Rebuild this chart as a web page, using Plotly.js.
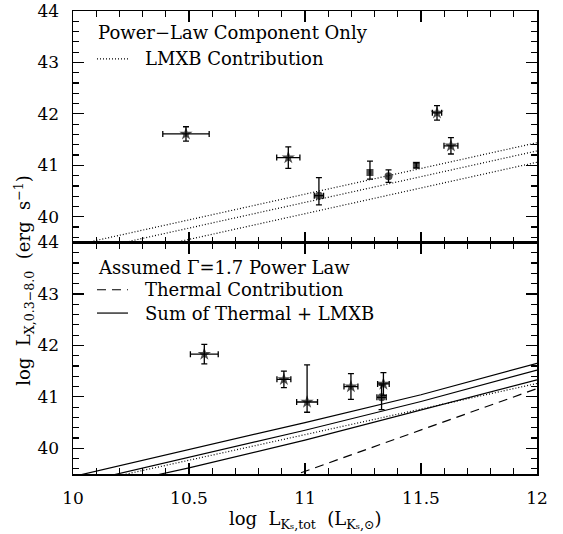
<!DOCTYPE html>
<html>
<head>
<meta charset="utf-8">
<script src="https://cdn.plot.ly/plotly-3.0.1.min.js"></script>
<style>html,body{margin:0;padding:0;background:#fff;}#chart{width:563px;height:534px;}</style>
</head>
<body>
<div id="chart"></div>
<script>
// ---- Top panel: power-law component only ----
const topX = [10.487, 10.928, 11.06, 11.28, 11.36, 11.48, 11.569, 11.629];
const topY = [41.61, 41.15, 40.41, 40.86, 40.79, 41.00, 42.02, 41.38];
const topYErrPlus = [0.14, 0.21, 0.35, 0.22, 0.12, 0.05, 0.14, 0.16];
const topYErrMinus = [0.14, 0.21, 0.18, 0.13, 0.12, 0.05, 0.14, 0.16];
const topXErr = [0.10, 0.05, 0.02, 0, 0, 0, 0.02, 0.03];
const topSymbol = ['star', 'star', 'circle', 'square', 'circle', 'square', 'star', 'star'];

const lmxbX = [10, 12];
const lmxbHiY = [39.44, 41.44];
const lmxbMidY = [39.28, 41.28];
const lmxbLoY = [39.06, 41.06];

// ---- Bottom panel: assumed Gamma=1.7 power law ----
const botX = [10.566, 10.909, 11.009, 11.198, 11.33, 11.338];
const botY = [41.83, 41.34, 40.90, 41.20, 40.99, 41.25];
const botYErrPlus = [0.19, 0.16, 0.72, 0.25, 0.24, 0.22];
const botYErrMinus = [0.19, 0.16, 0.20, 0.25, 0.24, 0.22];
const botXErr = [0.06, 0.03, 0.045, 0.03, 0.02, 0.025];
const botSymbol = ['star', 'star', 'star', 'star', 'circle', 'star'];

const botLmxbX = [10, 12];
const botLmxbY = [39.27, 41.26];
const thermalX = [10.8, 12];
const thermalY = [39.23, 41.16];
const sumX = [10, 10.5, 11, 11.5, 12];
const sumHiY = [39.45, 39.97, 40.50, 41.04, 41.65];
const sumMidY = [39.30, 39.82, 40.35, 40.91, 41.52];
const sumLoY = [39.12, 39.62, 40.16, 40.74, 41.33];

const xTickVals = [10, 10.5, 11, 11.5, 12];
const xTickText = ['10', '10.5', '11', '11.5', '12'];
const yTickVals = [40, 41, 42, 43, 44];

const FONT = 'DejaVu Serif, Liberation Serif, serif';
const symSize = s => s === 'star' ? 10 : (s === 'circle' ? 8 : 7);

function lineTrace(x, y, dash, xa, ya) {
  return {x: x, y: y, mode: 'lines', xaxis: xa, yaxis: ya, showlegend: false, hoverinfo: 'skip',
          line: {color: '#000', width: 1.2, dash: dash}};
}
function pointTrace(x, y, ep, em, ex, sym, xa, ya) {
  return {x: x, y: y, mode: 'markers', xaxis: xa, yaxis: ya, showlegend: false,
          marker: {color: '#000', symbol: sym, size: sym.map(symSize), line: {width: 0}},
          error_y: {type: 'data', symmetric: false, array: ep, arrayminus: em, color: '#000', thickness: 1.3, width: 3},
          error_x: {type: 'data', array: ex, color: '#000', thickness: 1.3, width: 3}};
}

const data = [
  lineTrace(lmxbX, lmxbHiY, '1px,2px', 'x2', 'y2'),
  lineTrace(lmxbX, lmxbMidY, '1px,2px', 'x2', 'y2'),
  lineTrace(lmxbX, lmxbLoY, '1px,2px', 'x2', 'y2'),
  pointTrace(topX, topY, topYErrPlus, topYErrMinus, topXErr, topSymbol, 'x2', 'y2'),
  lineTrace(botLmxbX, botLmxbY, '1px,2px', 'x', 'y'),
  lineTrace(thermalX, thermalY, '9px,6px', 'x', 'y'),
  lineTrace(sumX, sumHiY, 'solid', 'x', 'y'),
  lineTrace(sumX, sumMidY, 'solid', 'x', 'y'),
  lineTrace(sumX, sumLoY, 'solid', 'x', 'y'),
  pointTrace(botX, botY, botYErrPlus, botYErrMinus, botXErr, botSymbol, 'x', 'y')
];

const xBase = {range: [10, 12], showgrid: false, zeroline: false, showline: true, linecolor: '#000', linewidth: 1.5,
  mirror: 'ticks', ticks: 'inside', ticklen: 11, tickwidth: 1.2, tickcolor: '#000',
  tickmode: 'array', tickvals: xTickVals, ticktext: xTickText,
  minor: {dtick: 0.1, tick0: 10, ticklen: 6, tickwidth: 1.2, tickcolor: '#000', ticks: 'inside', showgrid: false},
  tickfont: {family: FONT, size: 17, color: '#000'}};
const yBase = {range: [39.5, 44], showgrid: false, zeroline: false, showline: true, linecolor: '#000', linewidth: 1.5,
  mirror: 'ticks', ticks: 'inside', ticklen: 11, tickwidth: 1.2, tickcolor: '#000',
  tickmode: 'array', tickvals: yTickVals, ticktext: yTickVals.map(String),
  minor: {dtick: 0.2, tick0: 40, ticklen: 6, tickwidth: 1.2, tickcolor: '#000', ticks: 'inside', showgrid: false},
  tickfont: {family: FONT, size: 17, color: '#000'}, ticklabelstandoff: 9, ticklabeloverflow: 'allow'};

const annFont = {family: FONT, size: 18, color: '#000'};
const layout = {
  width: 563, height: 534,
  margin: {l: 73, r: 26, t: 11, b: 60},
  paper_bgcolor: '#fff', plot_bgcolor: '#fff',
  showlegend: false,
  xaxis: Object.assign({}, xBase, {anchor: 'y', domain: [0, 1], ticklabelstandoff: 8}),
  xaxis2: Object.assign({}, xBase, {anchor: 'y2', matches: 'x', showticklabels: false}),
  yaxis: Object.assign({}, yBase, {anchor: 'x', domain: [0, 0.5]}),
  yaxis2: Object.assign({}, yBase, {anchor: 'x2', domain: [0.5, 1]}),
  annotations: [
    {xref: 'paper', yref: 'paper', x: 0.0496, y: 0.9526, xanchor: 'left', yanchor: 'middle', showarrow: false, text: 'Power\u2212Law Component Only', font: annFont},
    {xref: 'paper', yref: 'paper', x: 0.1498, y: 0.8966, xanchor: 'left', yanchor: 'middle', showarrow: false, text: 'LMXB Contribution', font: annFont},
    {xref: 'paper', yref: 'paper', x: 0.0496, y: 0.4468, xanchor: 'left', yanchor: 'middle', showarrow: false, text: 'Assumed \u0393=1.7 Power Law', font: annFont},
    {xref: 'paper', yref: 'paper', x: 0.1498, y: 0.398, xanchor: 'left', yanchor: 'middle', showarrow: false, text: 'Thermal Contribution', font: annFont},
    {xref: 'paper', yref: 'paper', x: 0.1498, y: 0.3476, xanchor: 'left', yanchor: 'middle', showarrow: false, text: 'Sum of Thermal + LMXB', font: annFont},
    {xref: 'paper', yref: 'paper', x: 0.5, y: -0.099, xanchor: 'center', yanchor: 'middle', showarrow: false,
     text: 'log  L<sub>K\u209b,tot</sub>  (L<sub>K\u209b,\u2299</sub>)', font: annFont},
    {xref: 'paper', yref: 'paper', x: -0.105, y: 0.418, xanchor: 'center', yanchor: 'middle', showarrow: false, textangle: -90,
     text: 'log  L<sub>X,0.3\u22128.0</sub>  (erg  s<sup>\u22121</sup>)', font: annFont}
  ],
  shapes: [
    {type: 'line', xref: 'paper', yref: 'paper', x0: 0.0517, x1: 0.1185, y0: 0.8966, y1: 0.8966, line: {color: '#000', width: 1.2, dash: '1px,2px'}},
    {type: 'line', xref: 'paper', yref: 'paper', x0: 0.0517, x1: 0.1185, y0: 0.398, y1: 0.398, line: {color: '#000', width: 1.2, dash: '9px,6px'}},
    {type: 'line', xref: 'paper', yref: 'paper', x0: 0.0517, x1: 0.1185, y0: 0.3476, y1: 0.3476, line: {color: '#000', width: 1.2}}
  ]
};

Plotly.newPlot('chart', data, layout, {staticPlot: true, displayModeBar: false});
</script>
</body>
</html>
